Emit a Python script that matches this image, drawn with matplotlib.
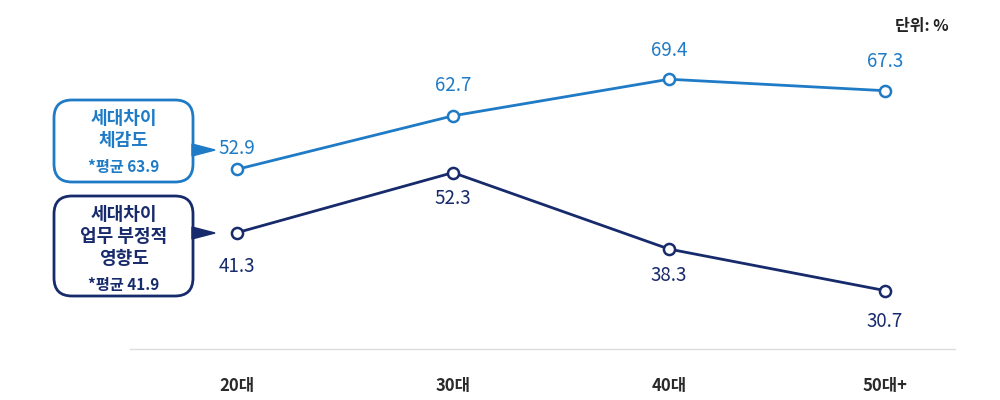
import matplotlib
matplotlib.use("Agg")
import matplotlib.pyplot as plt
from matplotlib.patches import FancyBboxPatch, Polygon

plt.rcParams['font.family'] = ['Noto Sans CJK KR', 'DejaVu Sans']

# data
ages = ["20대", "30대", "40대", "50대+"]
feel = [52.9, 62.7, 69.4, 67.3]       # 세대차이 체감도
negative = [41.3, 52.3, 38.3, 30.7]   # 세대차이 업무 부정적 영향도
feel_avg = 63.9
negative_avg = 41.9

LIGHT = "#1f7bc6"
NAVY = "#172a6b"

fig = plt.figure(figsize=(10, 4), dpi=100)
ax = fig.add_axes([0.13, 0.1275, 0.825, 0.8725])
x = list(range(len(ages)))

ax.plot(x, feel, color=LIGHT, lw=2.0, marker="o", ms=8, mfc="white",
        mec=LIGHT, mew=1.8, zorder=3)
ax.plot(x, negative, color=NAVY, lw=2.0, marker="o", ms=8, mfc="white",
        mec=NAVY, mew=1.8, zorder=3)

# value labels (offsets in pixels)
feel_off = [21, 30, 29, 29]
neg_off = [34, 26, 26, 31]
for i, v in enumerate(feel):
    ax.annotate(f"{v:.1f}", (i, v), xytext=(0, feel_off[i]), textcoords="offset pixels",
                ha="center", va="center", fontsize=13.5, color=LIGHT)
for i, v in enumerate(negative):
    ax.annotate(f"{v:.1f}", (i, v), xytext=(0, -neg_off[i]), textcoords="offset pixels",
                ha="center", va="center", fontsize=13.5, color=NAVY)

ax.set_xlim(-0.495, 3.324)
ax.set_ylim(20, 52.9 + 169 / 5.45)
ax.set_xticks(x)
ax.set_xticklabels(ages, fontsize=12, color="#2a2a2a", fontweight="bold")
ax.tick_params(axis="x", length=0, pad=20)
ax.set_yticks([])
for s in ["top", "left", "right"]:
    ax.spines[s].set_visible(False)
ax.spines["bottom"].set_color("#dddddd")
ax.spines["bottom"].set_linewidth(1)

# legend boxes, drawn in figure pixel coordinates
W, H = 1000, 400


def px(xp, yp):
    return xp / W, 1 - yp / H


def callout(x0, y0, x1, y1, ty, color, lines, avg_text):
    bx, by = px(x0, y1)
    box = FancyBboxPatch((bx, by), (x1 - x0) / W, (y1 - y0) / H,
                         boxstyle="round,pad=0,rounding_size=0.018",
                         transform=fig.transFigure, fc="white", ec=color,
                         lw=2.0, zorder=5, mutation_aspect=2.5)
    fig.add_artist(box)
    tri = Polygon([px(x1 - 1, ty - 6), px(x1 + 22, ty), px(x1 - 1, ty + 6)],
                  closed=True, transform=fig.transFigure, fc=color, ec=color,
                  zorder=6)
    fig.add_artist(tri)
    cx = (x0 + x1) / 2
    n = len(lines)
    top = y0 + 19
    for k, ln in enumerate(lines):
        fig.text(*px(cx, top + k * 22), ln, ha="center", va="center",
                 fontsize=13, fontweight="bold", color=color, zorder=7)
    fig.text(*px(cx, top + (n - 1) * 22 + 26), avg_text, ha="center", va="center",
             fontsize=11, fontweight="bold", color=color, zorder=7)


callout(54, 100, 193, 182, 150, LIGHT, ["세대차이", "체감도"], f"*평균 {feel_avg}")
callout(54, 196, 193, 296, 233, NAVY, ["세대차이", "업무 부정적", "영향도"], f"*평균 {negative_avg}")

fig.text(*px(922, 26), "단위: %", ha="center", va="center", fontsize=11.5,
         fontweight="bold", color="#222222")

fig.savefig("out.png", dpi=100)
